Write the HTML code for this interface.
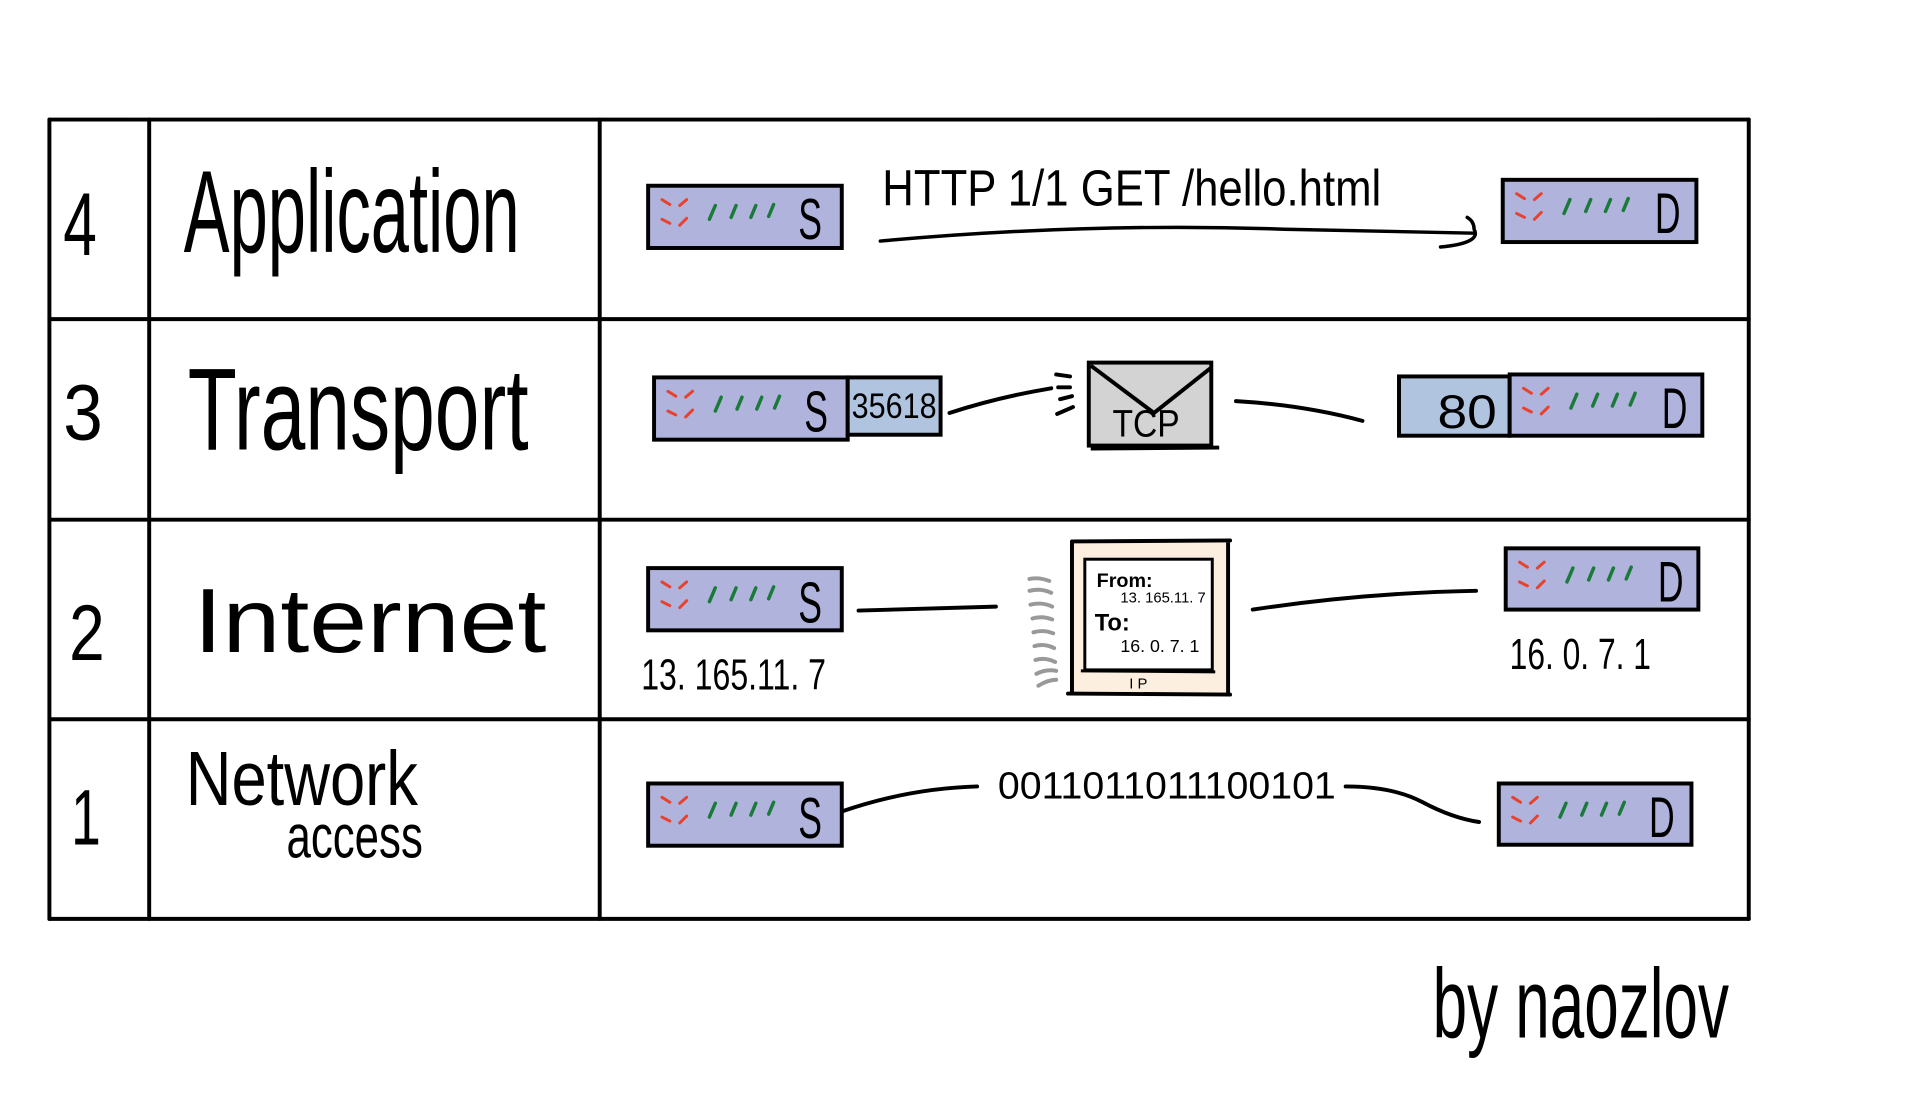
<!DOCTYPE html>
<html><head><meta charset="utf-8"><style>
html,body{margin:0;padding:0;background:#fff;}
svg{display:block;}
text{font-family:"Liberation Sans Narrow","Liberation Sans",sans-serif;}
</style></head><body>
<svg width="1905" height="1095" viewBox="0 0 1905 1095" xmlns="http://www.w3.org/2000/svg">
<defs>
<g id="marks">
<path d="M14 14 l8 5 M32 20 l7 -6 M14 34 l8 4 M32 40 l7 -7" stroke="#e8412d" stroke-width="3" stroke-linecap="round"/>
<path d="M62 34 l6 -14 M84 32 l5 -12 M104 32 l5 -12 M122 31 l5 -12" stroke="#1a7a3a" stroke-width="3.5" stroke-linecap="round"/>
</g>
</defs>
<g transform="scale(0.988)">
<g fill="none" stroke="#000" stroke-width="4" stroke-linecap="round">
<path d="M50 121 L1770 121"/>
<path d="M50 323 L1770 323"/>
<path d="M50 526 L1770 526"/>
<path d="M50 728 L1770 728"/>
<path d="M50 930 L1770 930"/>
<path d="M50 121 L50 930"/>
<path d="M151 121 L151 930"/>
<path d="M607 121 L607 930"/>
<path d="M1770 121 L1770 930"/>
</g>

<g fill="#000">
<text x="64" y="258" font-size="90" textLength="34" lengthAdjust="spacingAndGlyphs">4</text>
<text x="64" y="445" font-size="80" textLength="40" lengthAdjust="spacingAndGlyphs">3</text>
<text x="70" y="668" font-size="80" textLength="36" lengthAdjust="spacingAndGlyphs">2</text>
<text x="72" y="855" font-size="80" textLength="30" lengthAdjust="spacingAndGlyphs">1</text>
<text x="186" y="255" font-size="118" textLength="340" lengthAdjust="spacingAndGlyphs">Application</text>
<text x="190" y="455" font-size="118" textLength="345" lengthAdjust="spacingAndGlyphs">Transport</text>
<text x="196" y="660" font-size="92" textLength="357" lengthAdjust="spacingAndGlyphs">Internet</text>
<text x="188" y="815" font-size="78" textLength="235" lengthAdjust="spacingAndGlyphs">Network</text>
<text x="290" y="868" font-size="62" textLength="138" lengthAdjust="spacingAndGlyphs">access</text>
<text x="1450" y="1050" font-size="100" textLength="300" lengthAdjust="spacingAndGlyphs">by naozlov</text>
</g>

<g transform="translate(656,188)">
<rect x="0" y="0" width="196" height="63" fill="#b0b3dc" stroke="#000" stroke-width="4"/>
<use href="#marks"/>
<text x="152" y="54" font-size="58" textLength="24" lengthAdjust="spacingAndGlyphs" fill="#000">S</text>
</g>
<g transform="translate(1521,182)">
<rect x="0" y="0" width="196" height="63" fill="#b0b3dc" stroke="#000" stroke-width="4"/>
<use href="#marks"/>
<text x="154" y="54" font-size="58" textLength="26" lengthAdjust="spacingAndGlyphs" fill="#000">D</text>
</g>
<text x="893" y="208" font-size="52" textLength="505" lengthAdjust="spacingAndGlyphs" fill="#000">HTTP 1/1 GET /hello.html</text>
<path d="M891 244 Q1100 225 1300 232 L1492 236 M1458 250 Q1500 246 1492 232 Q1492 224 1485 220" fill="none" stroke="#000" stroke-width="3.5" stroke-linecap="round"/>

<g transform="translate(662,382)">
<rect x="0" y="0" width="196" height="63" fill="#b0b3dc" stroke="#000" stroke-width="4"/>
<use href="#marks"/>
<text x="152" y="55" font-size="58" textLength="24" lengthAdjust="spacingAndGlyphs" fill="#000">S</text>
</g>
<rect x="858" y="382" width="94" height="58" fill="#b0c4df" stroke="#000" stroke-width="4"/>
<text x="862" y="423" font-size="36" textLength="86" lengthAdjust="spacingAndGlyphs" fill="#000">35618</text>
<path d="M961 418 Q1010 402 1064 393" fill="none" stroke="#000" stroke-width="4" stroke-linecap="round"/>
<path d="M1069 379 l14 2 M1071 392 l12 0 M1073 404 l12 -3 M1070 419 l16 -7" stroke="#000" stroke-width="4" stroke-linecap="round"/>
<rect x="1102" y="367" width="124" height="84" fill="#d3d3d3" stroke="#000" stroke-width="4"/>
<path d="M1104 370 L1168 418 L1226 372" fill="none" stroke="#000" stroke-width="4"/>
<path d="M1104 454 L1234 453" stroke="#000" stroke-width="4"/>
<text x="1126" y="442" font-size="38" textLength="68" lengthAdjust="spacingAndGlyphs" fill="#000">TCP</text>
<path d="M1251 406 Q1320 410 1379 426" fill="none" stroke="#000" stroke-width="4" stroke-linecap="round"/>
<rect x="1416" y="381" width="112" height="60" fill="#b0c4df" stroke="#000" stroke-width="4"/>
<text x="1455" y="433" font-size="48" textLength="60" lengthAdjust="spacingAndGlyphs" fill="#000">80</text>
<g transform="translate(1528,379)">
<rect x="0" y="0" width="195" height="62" fill="#b0b3dc" stroke="#000" stroke-width="4"/>
<use href="#marks"/>
<text x="154" y="54" font-size="58" textLength="26" lengthAdjust="spacingAndGlyphs" fill="#000">D</text>
</g>

<g transform="translate(656,575)">
<rect x="0" y="0" width="196" height="63" fill="#b0b3dc" stroke="#000" stroke-width="4"/>
<use href="#marks"/>
<text x="152" y="55" font-size="58" textLength="24" lengthAdjust="spacingAndGlyphs" fill="#000">S</text>
</g>
<text x="649" y="698" font-size="44" textLength="187" lengthAdjust="spacingAndGlyphs" fill="#000">13. 165.11. 7</text>
<path d="M869 618 Q940 616 1008 614" fill="none" stroke="#000" stroke-width="4" stroke-linecap="round"/>
<path d="M1042 586 q10 -2 20 2 M1042 598 q12 -3 22 2 M1043 612 q12 -3 22 2 M1045 626 q10 -3 20 1 M1046 640 q10 -3 20 1 M1047 654 q10 -3 20 2 M1048 668 q10 -3 20 2 M1049 682 q10 -5 20 -3 M1051 694 q10 -6 18 -6" fill="none" stroke="#999" stroke-width="4" stroke-linecap="round"/>
<rect x="1083" y="548" width="160" height="153" fill="#fcefe0" stroke="none"/>
<path d="M1085 548 L1245 547 M1085 548 L1085 700 M1243 547 L1243 703 M1081 702 L1245 703" fill="none" stroke="#000" stroke-width="4" stroke-linecap="round"/>
<rect x="1098" y="566" width="129" height="112" fill="#fff" stroke="#000" stroke-width="3"/>
<path d="M1094 679 L1230 680" stroke="#000" stroke-width="3"/>
<text x="1110" y="594" font-size="20" font-weight="bold" fill="#000">From:</text>
<text x="1134" y="610" font-size="15" fill="#000">13. 165.11. 7</text>
<text x="1108" y="638" font-size="24" font-weight="bold" fill="#000">To:</text>
<text x="1134" y="660" font-size="18" fill="#000">16. 0. 7. 1</text>
<text x="1143" y="697" font-size="15" fill="#000">I P</text>
<path d="M1268 617 Q1380 600 1494 598" fill="none" stroke="#000" stroke-width="4" stroke-linecap="round"/>
<g transform="translate(1524,555)">
<rect x="0" y="0" width="195" height="62" fill="#b0b3dc" stroke="#000" stroke-width="4"/>
<use href="#marks"/>
<text x="154" y="54" font-size="58" textLength="26" lengthAdjust="spacingAndGlyphs" fill="#000">D</text>
</g>
<text x="1528" y="677" font-size="44" textLength="143" lengthAdjust="spacingAndGlyphs" fill="#000">16. 0. 7. 1</text>

<g transform="translate(656,793)">
<rect x="0" y="0" width="196" height="63" fill="#b0b3dc" stroke="#000" stroke-width="4"/>
<use href="#marks"/>
<text x="152" y="55" font-size="58" textLength="24" lengthAdjust="spacingAndGlyphs" fill="#000">S</text>
</g>
<g transform="translate(1517,793)">
<rect x="0" y="0" width="195" height="62" fill="#b0b3dc" stroke="#000" stroke-width="4"/>
<use href="#marks"/>
<text x="152" y="54" font-size="58" textLength="26" lengthAdjust="spacingAndGlyphs" fill="#000">D</text>
</g>
<path d="M853 821 Q920 798 989 796" fill="none" stroke="#000" stroke-width="4" stroke-linecap="round"/>
<text x="1010" y="808" font-size="38" textLength="342" lengthAdjust="spacingAndGlyphs" fill="#000">0011011011100101</text>
<path d="M1362 796 Q1410 796 1440 812 Q1470 828 1497 832" fill="none" stroke="#000" stroke-width="4" stroke-linecap="round"/>
</g>
</svg>
</body></html>
